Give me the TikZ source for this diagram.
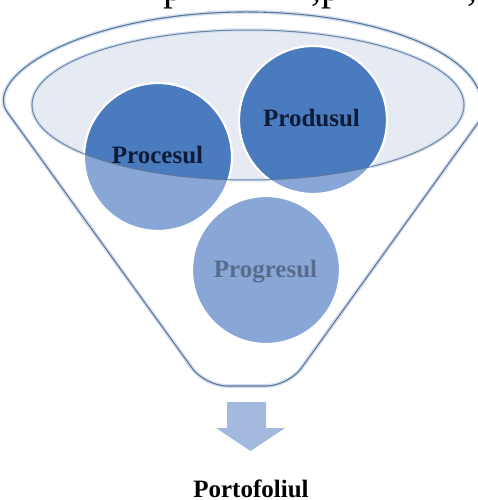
\documentclass[tikz,border=0pt]{standalone}
\usepackage{fontspec}
\setmainfont{Liberation Serif}
\begin{document}
\begin{tikzpicture}[x=1pt,y=-1pt,
  glowline/.style={draw=glowblue,line width=4pt},
  rimline/.style={draw=rimblue,line width=1.1pt},
  ball/.style={circle,minimum size=148pt,inner sep=0pt},
  label/.style={anchor=base,font=\bfseries\fontsize{25}{30}\selectfont},
  cuttext/.style={anchor=base west,inner sep=0pt,font=\fontsize{40}{48}\selectfont}]
\definecolor{glowblue}{HTML}{D3E0F1}
\definecolor{rimblue}{HTML}{5E7696}
\definecolor{bowlfill}{HTML}{E6EAF3}
\definecolor{deepball}{HTML}{4A7BBF}
\definecolor{paleball}{HTML}{88A7D7}
\definecolor{inkblue}{HTML}{0E1B36}
\definecolor{greyink}{HTML}{5A6C8C}
\definecolor{arrowblue}{HTML}{A3B9DE}
\useasboundingbox (0,0) rectangle (478,500);

% tail of the preceding text line
\begin{scope}
  \clip (0,0) rectangle (478,12);
  \node[cuttext] (tp1) at (163,1) {p};
  \node[cuttext] (tc1) at (311,1) {,};
  \node[cuttext] (tp2) at (321,1) {p};
  \node[cuttext] (tc2) at (467,1) {,};
\end{scope}

% funnel outline
\coordinate (fl) at (205,386);
\coordinate (fr) at (288.5,386);
\path[rounded corners=22pt,glowline]
  (fl) -- (20.6,130.6) arc[start angle=164,end angle=376,x radius=235,y radius=93] -- (fr) -- cycle;
\path[rounded corners=22pt,rimline]
  (fl) -- (20.6,130.6) arc[start angle=164,end angle=376,x radius=235,y radius=93] -- (fr) -- cycle;

% inner rim of the funnel
\path[draw=glowblue,line width=3.5pt,fill=bowlfill] (248,105) ellipse[x radius=216,y radius=75];

% the three circles, pale everywhere
\node[ball,fill=paleball] (proc) at (158,157) {};
\node[ball,fill=paleball] (prod) at (313,120) {};
\node[ball,fill=paleball] (prog) at (266,270) {};

% darker where they sit inside the rim
\begin{scope}
  \clip (248,105) ellipse[x radius=216,y radius=75];
  \fill[deepball] (proc.center) circle[radius=74pt];
  \fill[deepball] (prod.center) circle[radius=74pt];
\end{scope}

% white edges of the circles
\draw[white,line width=2.2pt] (proc.center) circle[radius=74pt];
\draw[white,line width=2.2pt] (prod.center) circle[radius=74pt];
\draw[white,line width=2.2pt] (prog.center) circle[radius=74pt];

% rim line over everything
\draw[rimline,line width=1pt,draw opacity=0.85] (248,105) ellipse[x radius=216,y radius=75];

% labels
\node[label,text=inkblue] (tproc) at (157.5,163) {Procesul};
\node[label,text=inkblue] (tprod) at (311.5,127) {Produsul};
\node[label,text=greyink] (tprog) at (265.5,277) {Progresul};

% output arrow and result
\fill[arrowblue] (227,402) -- (266,402) -- (266,428) -- (285,428) -- (250.5,451)
  -- (216,428) -- (227,428) -- cycle;
\node[label,text=black] (port) at (251,497) {Portofoliul};
\end{tikzpicture}
\end{document}
